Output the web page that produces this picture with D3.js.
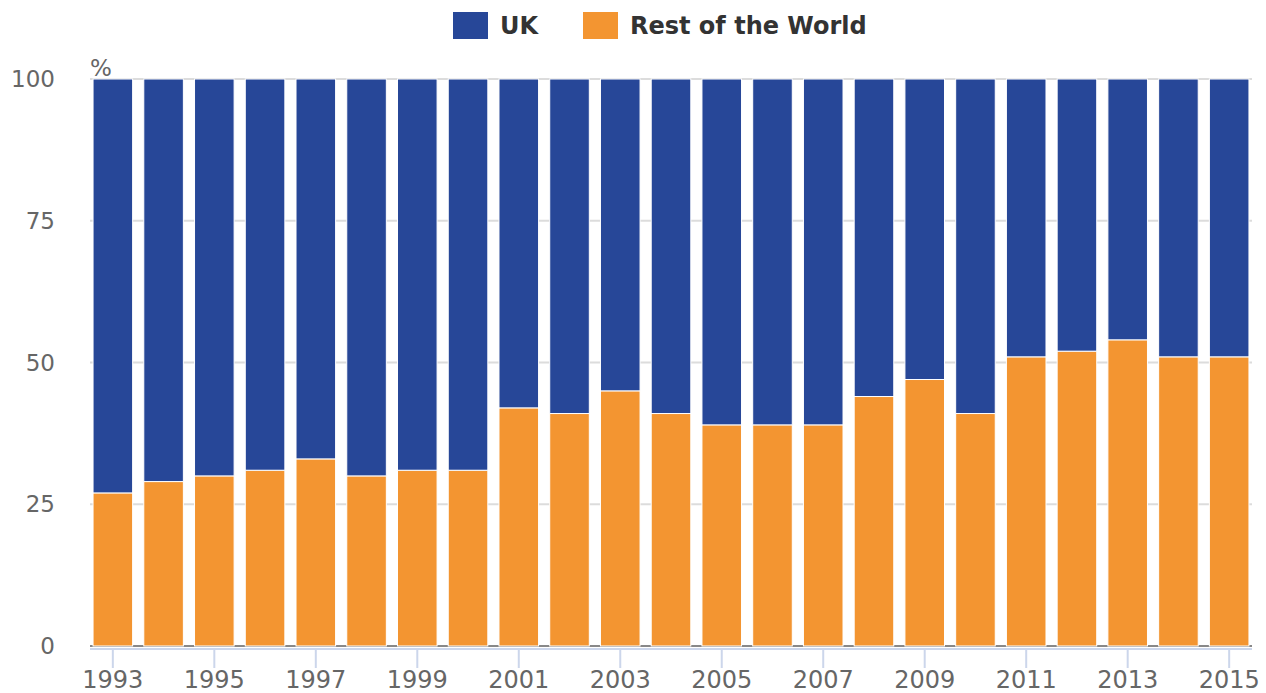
<!DOCTYPE html>
<html>
<head>
<meta charset="utf-8">
<script src="https://cdn.jsdelivr.net/npm/d3@7"></script>
<style>
  body { margin: 0; background: #fff; }
  text { font-family: "DejaVu Sans", sans-serif; }
</style>
</head>
<body>
<div id="vis-container"></div>
<script>
// data
var years = ["1993","1994","1995","1996","1997","1998","1999","2000","2001","2002","2003","2004",
             "2005","2006","2007","2008","2009","2010","2011","2012","2013","2014","2015"];
var restOfWorld = [27, 29, 30, 31, 33, 30, 31, 31, 42, 41, 45, 41, 39, 39, 39, 44, 47, 41, 51, 52, 54, 51, 51];
var uk = restOfWorld.map(v => 100 - v);
var yTicks = [0, 25, 50, 75, 100];
var xTickLabels = years.filter((y, i) => i % 2 === 0);

var width = 1266, height = 693;
var margins = { top: 79, right: 14, bottom: 47, left: 90 };
var visWidth = width - margins.left - margins.right;
var visHeight = height - margins.top - margins.bottom;

var svg = d3.select("#vis-container").append("svg")
    .attr("width", width).attr("height", height);
var viewport = svg.append("g")
    .attr("transform", "translate(" + margins.left + "," + margins.top + ")");

var xScale = d3.scaleBand().domain(years).range([0, visWidth]).paddingInner(0.22).paddingOuter(0.06);
var yScale = d3.scaleLinear().domain([0, 100]).range([visHeight, 0]);

// gridlines
viewport.append("g").selectAll("line")
    .data(yTicks).enter().append("line")
    .attr("x1", 0).attr("x2", visWidth)
    .attr("y1", d => yScale(d)).attr("y2", d => yScale(d))
    .attr("stroke", d => d === 0 ? "#888" : "#dcdcdc").attr("stroke-width", 2);

// y labels
viewport.append("g").selectAll("text")
    .data(yTicks).enter().append("text")
    .attr("x", -35).attr("y", d => yScale(d) + 8)
    .attr("text-anchor", "end")
    .attr("font-size", 23).attr("fill", "#666")
    .text(d => d);

viewport.append("text")
    .attr("x", 0).attr("y", -3)
    .attr("font-size", 23).attr("fill", "#666")
    .text("%");

// stacked bars
var stackData = years.map((y, i) => ({ year: y, row: restOfWorld[i], uk: uk[i] }));
var series = d3.stack().keys(["row", "uk"])(stackData);
var colors = { row: "#f39531", uk: "#274798" };

viewport.append("g").selectAll("g")
    .data(series).enter().append("g")
    .attr("fill", d => colors[d.key])
    .selectAll("rect")
    .data(d => d).enter().append("rect")
    .attr("x", d => xScale(d.data.year))
    .attr("width", xScale.bandwidth())
    .attr("y", d => yScale(d[1]))
    .attr("height", d => yScale(d[0]) - yScale(d[1]))
    .attr("stroke", "#fff").attr("stroke-width", 1);

// x axis
var xAxis = viewport.append("g").attr("transform", "translate(0," + visHeight + ")");
xAxis.append("line")
    .attr("x1", 0).attr("x2", visWidth)
    .attr("y1", 3).attr("y2", 3)
    .attr("stroke", "#ccd6eb").attr("stroke-width", 2);
var xt = xAxis.selectAll("g.tick")
    .data(xTickLabels).enter().append("g")
    .attr("transform", d => "translate(" + (xScale(d) + xScale.bandwidth() / 2) + ",0)");
xt.append("line").attr("y1", 3).attr("y2", 22)
    .attr("stroke", "#ccd6eb").attr("stroke-width", 2);
xt.append("text")
    .attr("y", 42).attr("text-anchor", "middle")
    .attr("font-size", 24).attr("fill", "#666")
    .text(d => d);

// legend
var legendItems = [
    { label: "UK", color: colors.uk, x: 453 },
    { label: "Rest of the World", color: colors.row, x: 583 }
];
var legend = svg.append("g").selectAll("g")
    .data(legendItems).enter().append("g")
    .attr("transform", d => "translate(" + d.x + ",12)");
legend.append("rect")
    .attr("width", 35).attr("height", 27)
    .attr("fill", d => d.color);
legend.append("text")
    .attr("x", 47).attr("y", 22)
    .attr("font-size", 24).attr("font-weight", "bold").attr("fill", "#333")
    .text(d => d.label);
</script>
</body>
</html>
